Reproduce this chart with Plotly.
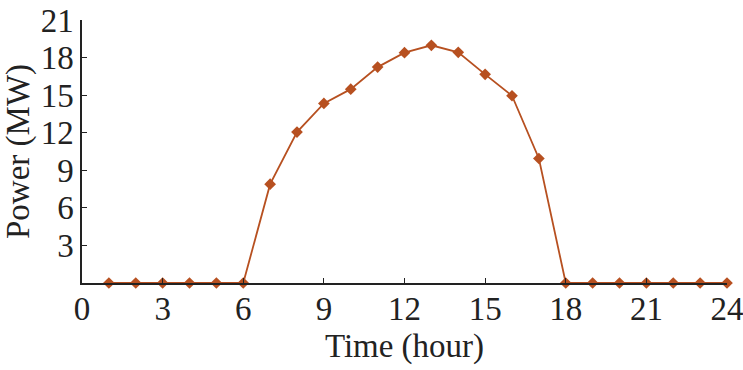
import plotly.graph_objects as go

hours = list(range(1, 25))
power = [0, 0, 0, 0, 0, 0, 7.89, 12.05, 14.34, 15.48, 17.24, 18.39,
         18.98, 18.42, 16.66, 14.95, 9.94, 0, 0, 0, 0, 0, 0, 0]
x_ticks = list(range(0, 25, 3))
y_ticks = list(range(3, 22, 3))

color = "rgb(183,80,32)"
font = "Liberation Serif, Times New Roman, serif"

fig = go.Figure(go.Scatter(
    x=hours, y=power, mode="lines+markers",
    line=dict(color=color, width=1.8),
    marker=dict(symbol="diamond", size=9, color=color),
    cliponaxis=False,
))

fig.update_layout(
    width=743, height=370,
    margin=dict(l=82, r=16, t=20, b=87),
    paper_bgcolor="white", plot_bgcolor="white",
    font=dict(family=font, size=33, color="#222"),
    showlegend=False,
    xaxis=dict(
        range=[0, 24], tickvals=x_ticks, ticktext=[str(v) for v in x_ticks],
        showline=True, linecolor="#222", linewidth=1.5,
        ticks="inside", ticklen=5, tickcolor="#222", tickwidth=1.2,
        showgrid=False, zeroline=False, automargin=False,
        ticklabeloverflow="allow", ticklabelstandoff=-4,
        title=dict(text="Time (hour)", font=dict(size=33), standoff=8),
    ),
    yaxis=dict(
        range=[0, 21], tickvals=y_ticks, ticktext=[str(v) for v in y_ticks],
        showline=True, linecolor="#222", linewidth=1.5,
        ticks="inside", ticklen=5, tickcolor="#222", tickwidth=1.2,
        showgrid=False, zeroline=False, automargin=False,
        ticklabeloverflow="allow",
        title=dict(text="Power (MW)", font=dict(size=33), standoff=4),
    ),
)

fig.write_html("out.html", config={"displayModeBar": False},
               post_script="document.body.style.margin='0px';")
